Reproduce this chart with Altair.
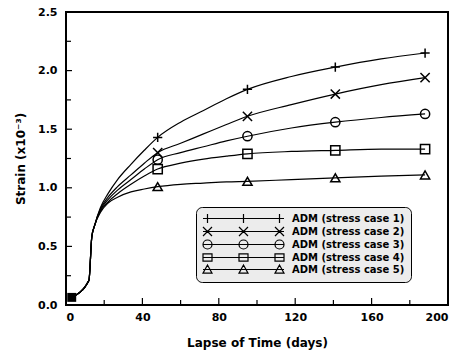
import altair as alt
import pandas as pd

# ---- data ----
series_names = [
    "ADM (stress case 1)",
    "ADM (stress case 2)",
    "ADM (stress case 3)",
    "ADM (stress case 4)",
    "ADM (stress case 5)",
]
days = [3, 12, 13.5, 15, 18, 22, 27, 34, 41, 48, 60, 72, 84, 95, 118, 141, 165, 188]
case1 = [0.065, 0.21, 0.58, 0.68, 0.83, 0.95, 1.07, 1.20, 1.32, 1.43, 1.56, 1.66, 1.76, 1.84, 1.95, 2.03, 2.10, 2.15]
case2 = [0.065, 0.21, 0.58, 0.68, 0.82, 0.92, 1.01, 1.11, 1.21, 1.30, 1.38, 1.46, 1.54, 1.61, 1.71, 1.80, 1.88, 1.94]
case3 = [0.065, 0.21, 0.58, 0.68, 0.81, 0.90, 0.98, 1.07, 1.16, 1.24, 1.30, 1.35, 1.40, 1.44, 1.51, 1.56, 1.60, 1.63]
case4 = [0.065, 0.21, 0.58, 0.68, 0.80, 0.88, 0.95, 1.03, 1.10, 1.16, 1.21, 1.245, 1.27, 1.29, 1.31, 1.32, 1.33, 1.33]
case5 = [0.065, 0.21, 0.58, 0.68, 0.79, 0.87, 0.92, 0.965, 0.99, 1.01, 1.03, 1.04, 1.05, 1.055, 1.07, 1.085, 1.10, 1.11]
marker_days = [48, 95, 141, 188]
origin_day = [3]
origin_strain = [0.065]

x_major = [0, 40, 80, 120, 160, 200]
x_minor = [20, 60, 100, 140, 180]
y_major = [0.0, 0.5, 1.0, 1.5, 2.0, 2.5]
y_minor = [0.25, 0.75, 1.25, 1.75, 2.25]

# ---- tables ----
all_cases = [case1, case2, case3, case4, case5]
rows = []
for name, vals in zip(series_names, all_cases):
    for d, v in zip(days, vals):
        rows.append({"series": name, "day": d, "strain": v, "marker": d in marker_days})
df = pd.DataFrame(rows)
df_markers = df[df["marker"]]
df_origin = pd.DataFrame({"day": origin_day, "strain": origin_strain})
df_xmaj = pd.DataFrame({"v": x_major})
df_xmin = pd.DataFrame({"v": x_minor})
df_ymaj = pd.DataFrame({"v": y_major})
df_ymin = pd.DataFrame({"v": y_minor})

W, H = 382, 293
FONT = "DejaVu Sans"

xscale = alt.Scale(domain=[0, 200], nice=False, zero=False)
yscale = alt.Scale(domain=[0, 2.5], nice=False, zero=False)

# marker symbols
plus = "M-1,0L1,0M0,-1L0,1"
cross = "M-1,-1L1,1M-1,1L1,-1"
marker_shapes = [plus, cross, "circle", "square", "triangle-up"]


def legend_path(kind):
    p = "M-9,0L9,0"
    for cx in (-8, 0, 8):
        if kind == "plus":
            p += f"M{cx-1},0L{cx+1},0M{cx},-1L{cx},1"
        elif kind == "cross":
            p += f"M{cx-1},-1L{cx+1},1M{cx-1},1L{cx+1},-1"
        elif kind == "circle":
            p += f"M{cx+1},0A1,1 0 1,1 {cx-1},0A1,1 0 1,1 {cx+1},0"
        elif kind == "square":
            p += f"M{cx-1},-0.8L{cx+1},-0.8L{cx+1},0.8L{cx-1},0.8Z"
        else:
            p += f"M{cx},-1L{cx+1},0.8L{cx-1},0.8Z"
    return p


legend_shapes = [legend_path(k) for k in ["plus", "cross", "circle", "square", "triangle"]]

x_enc = alt.X(
    "day:Q", scale=xscale,
    axis=alt.Axis(values=x_major, ticks=False, domain=False, grid=False, format="d",
                  title="Lapse of Time (days)", labelPadding=6, titlePadding=15),
)
y_enc = alt.Y(
    "strain:Q", scale=yscale,
    axis=alt.Axis(values=y_major, ticks=False, domain=False, grid=False, format=".1f",
                  title="Strain (x10⁻³)", labelPadding=9, titlePadding=10),
)

lines = alt.Chart(df).mark_line(color="black", strokeWidth=1.2, interpolate="monotone").encode(
    x=x_enc, y=y_enc, detail="series:N"
)

points = alt.Chart(df_markers).mark_point(filled=False, color="black", strokeWidth=1.5, size=85, opacity=1).encode(
    x="day:Q", y="strain:Q",
    shape=alt.Shape("series:N", scale=alt.Scale(domain=series_names, range=marker_shapes), legend=None),
)

origin = alt.Chart(df_origin).mark_square(color="black", size=80, opacity=1).encode(
    x="day:Q", y="strain:Q"
)

legend_layer = alt.Chart(df).transform_filter("false").mark_point(
    filled=False, color="black", strokeWidth=1.2, size=81, opacity=1
).encode(
    x="day:Q", y="strain:Q",
    shape=alt.Shape(
        "series:N",
        scale=alt.Scale(domain=series_names, range=legend_shapes),
        legend=alt.Legend(
            title=None, orient="none", legendX=130, legendY=195,
            fillColor="#ececec", strokeColor="black", cornerRadius=6,
            padding=6, symbolOffset=36, labelOffset=43, rowPadding=-2.5,
            labelFont=FONT, labelFontWeight="bold", labelFontSize=10, labelColor="black",
            symbolStrokeColor="black", symbolStrokeWidth=1.2, symbolSize=81,
        ),
    ),
)

ytick_major = alt.Chart(df_ymaj).mark_rule(color="black", strokeWidth=1.2).encode(
    y=alt.Y("v:Q", scale=yscale), x=alt.value(0), x2=alt.value(6)
)
ytick_minor = alt.Chart(df_ymin).mark_rule(color="black", strokeWidth=1.2).encode(
    y=alt.Y("v:Q", scale=yscale), x=alt.value(0), x2=alt.value(5)
)
xtick_major = alt.Chart(df_xmaj).mark_rule(color="black", strokeWidth=1.2).encode(
    x=alt.X("v:Q", scale=xscale), y=alt.value(H), y2=alt.value(H - 7)
)
xtick_minor = alt.Chart(df_xmin).mark_rule(color="black", strokeWidth=1.2).encode(
    x=alt.X("v:Q", scale=xscale), y=alt.value(H), y2=alt.value(H - 5)
)

chart = alt.layer(
    lines, points, origin, legend_layer, ytick_major, ytick_minor, xtick_major, xtick_minor
).resolve_scale(shape="independent").properties(
    width=W, height=H,
    autosize=alt.AutoSizeParams(type="none"),
    padding={"left": 66, "top": 12, "right": 17, "bottom": 46},
    background="white",
).configure_view(
    stroke="black", strokeWidth=2
).configure_axis(
    labelFont=FONT, labelFontWeight="bold", labelFontSize=11, labelColor="black",
    titleFont=FONT, titleFontWeight="bold", titleFontSize=12, titleColor="black",
)

chart.save("out.html", embed_options={"renderer": "svg", "actions": False})
